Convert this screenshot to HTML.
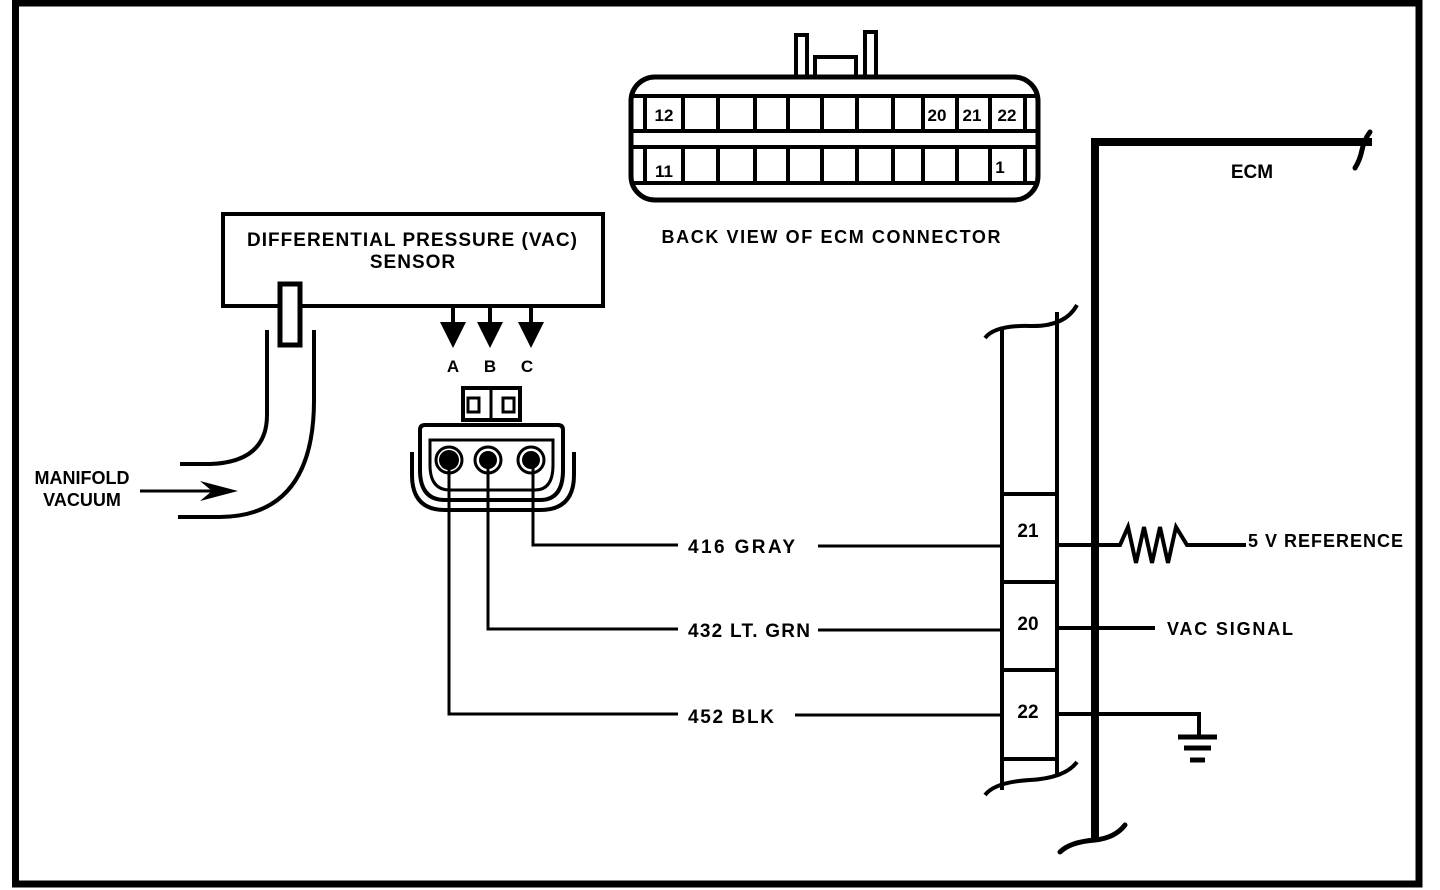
<!DOCTYPE html>
<html><head><style>
html,body{margin:0;padding:0;background:#fff;}
svg{display:block;}
text{font-family:"Liberation Sans",sans-serif;font-weight:bold;fill:#000;}
</style></head><body>
<svg width="1440" height="890" viewBox="0 0 1440 890" xmlns="http://www.w3.org/2000/svg">
<g fill="none" stroke="#000">
<path d="M15.5 3 H1419 V884 H15.5 Z" stroke-width="7"/>
<rect x="631" y="77" width="407" height="123" rx="24" stroke-width="5"/>
<line x1="631" y1="96" x2="1038" y2="96" stroke-width="4"/>
<line x1="631" y1="131" x2="1038" y2="131" stroke-width="4"/>
<line x1="631" y1="147" x2="1038" y2="147" stroke-width="4"/>
<line x1="631" y1="183" x2="1038" y2="183" stroke-width="4"/>
<g stroke-width="4">
<path d="M645 96V131M683 96V131M718 96V131M755 96V131M788 96V131M822 96V131M857 96V131M893 96V131M923 96V131M957 96V131M990 96V131M1025 96V131"/>
<path d="M645 147V183M683 147V183M718 147V183M755 147V183M788 147V183M822 147V183M857 147V183M893 147V183M923 147V183M957 147V183M990 147V183M1025 147V183"/>
</g>
<rect x="796" y="35" width="11" height="42" stroke-width="4"/>
<rect x="865" y="32" width="11" height="45" stroke-width="4"/>
<path d="M815 77V57H856V77" stroke-width="4"/>
<rect x="223" y="214" width="380" height="92" stroke-width="4"/>
<rect x="280" y="284" width="20" height="61" stroke-width="5" fill="#fff"/>
<path d="M267 330V415Q267 462 210 464H180" stroke-width="4"/>
<path d="M314 330V400Q314 516 220 517H178" stroke-width="4"/>
<line x1="140" y1="491" x2="215" y2="491" stroke-width="3"/>
<path d="M453 306V322M490 306V322M531 306V322" stroke-width="4"/>
<rect x="463" y="388" width="57" height="32" stroke-width="4"/>
<line x1="491" y1="388" x2="491" y2="420" stroke-width="3"/>
<rect x="468" y="398" width="11" height="14" stroke-width="3"/>
<rect x="503" y="398" width="11" height="14" stroke-width="3"/>
<path d="M420 430 Q420 425 425 425H558Q563 425 563 430V470Q563 500 540 500H445Q420 500 420 470Z" stroke-width="4"/>
<path d="M430 440H553V465Q553 490 535 490H450Q430 490 430 465Z" stroke-width="3"/>
<path d="M412 452V475Q412 510 445 510H540Q574 510 574 475V452" stroke-width="4"/>
<circle cx="449" cy="460" r="13" stroke-width="3"/>
<circle cx="488" cy="460" r="13" stroke-width="3"/>
<circle cx="531" cy="460" r="13" stroke-width="3"/>
<path d="M449 460V714H678" stroke-width="3"/>
<path d="M488 460V629H678" stroke-width="3"/>
<path d="M533 460V545H678" stroke-width="3"/>
<path d="M818 546H1002M818 630H1002M795 715H1002" stroke-width="3"/>
<path d="M1002 328V790M1057 312V775" stroke-width="4"/>
<path d="M1002 494H1057M1002 582H1057M1002 670H1057M1002 759H1057" stroke-width="4"/>
<path d="M985 338Q995 325 1030 326T1077 305" stroke-width="4"/>
<path d="M985 795Q995 782 1030 780T1077 762" stroke-width="4"/>
<path d="M1095 838V142H1372" stroke-width="8"/>
<path d="M1370 132Q1364 140 1362 150Q1360 160 1355 168" stroke-width="5" stroke-linecap="round"/>
<path d="M1060 852Q1070 842 1095 840Q1115 838 1125 825" stroke-width="5" stroke-linecap="round"/>
<path d="M1057 545H1120L1128 527L1136 563L1144 527L1152 563L1160 527L1168 563L1176 527L1187 545H1246" stroke-width="4"/>
<path d="M1057 628H1155" stroke-width="4"/>
<path d="M1057 714H1199V737" stroke-width="4"/>
<path d="M1178 737H1217M1184 748H1211M1190 760H1205" stroke-width="5"/>
</g>
<g fill="#000">
<path d="M440 322H466L453 348Z"/>
<path d="M477 322H503L490 348Z"/>
<path d="M518 322H544L531 348Z"/>
<circle cx="449" cy="460" r="10"/>
<circle cx="488" cy="460" r="9"/>
<circle cx="531" cy="460" r="9"/>
<path d="M200 481L238 491L200 501L212 491Z"/>
</g>
<g font-size="19">
<text x="412" y="246" text-anchor="middle" textLength="330" lengthAdjust="spacing">DIFFERENTIAL PRESSURE (VAC)</text>
<text x="413" y="268" text-anchor="middle" letter-spacing="1">SENSOR</text>
<text x="831" y="243" text-anchor="middle" font-size="18" textLength="339" lengthAdjust="spacing">BACK VIEW OF ECM CONNECTOR</text>
<text x="82" y="484" text-anchor="middle" font-size="18">MANIFOLD</text>
<text x="82" y="506" text-anchor="middle" font-size="18">VACUUM</text>
<text x="453" y="372" text-anchor="middle" font-size="17">A</text>
<text x="490" y="372" text-anchor="middle" font-size="17">B</text>
<text x="527" y="372" text-anchor="middle" font-size="17">C</text>
<text x="688" y="553" textLength="107" lengthAdjust="spacing">416 GRAY</text>
<text x="688" y="637" textLength="122" lengthAdjust="spacing">432 LT. GRN</text>
<text x="688" y="723" textLength="86" lengthAdjust="spacing">452 BLK</text>
<text x="1028" y="537" text-anchor="middle">21</text>
<text x="1028" y="630" text-anchor="middle">20</text>
<text x="1028" y="718" text-anchor="middle">22</text>
<text x="1252" y="178" text-anchor="middle">ECM</text>
<text x="1248" y="547" font-size="18" textLength="155" lengthAdjust="spacing">5 V REFERENCE</text>
<text x="1167" y="635" font-size="18" textLength="126" lengthAdjust="spacing">VAC SIGNAL</text>
</g>
<g font-size="17">
<text x="664" y="121" text-anchor="middle">12</text>
<text x="937" y="121" text-anchor="middle">20</text>
<text x="972" y="121" text-anchor="middle">21</text>
<text x="1007" y="121" text-anchor="middle">22</text>
<text x="664" y="177" text-anchor="middle">11</text>
<text x="1000" y="173" text-anchor="middle">1</text>
</g>
</svg>
</body></html>
